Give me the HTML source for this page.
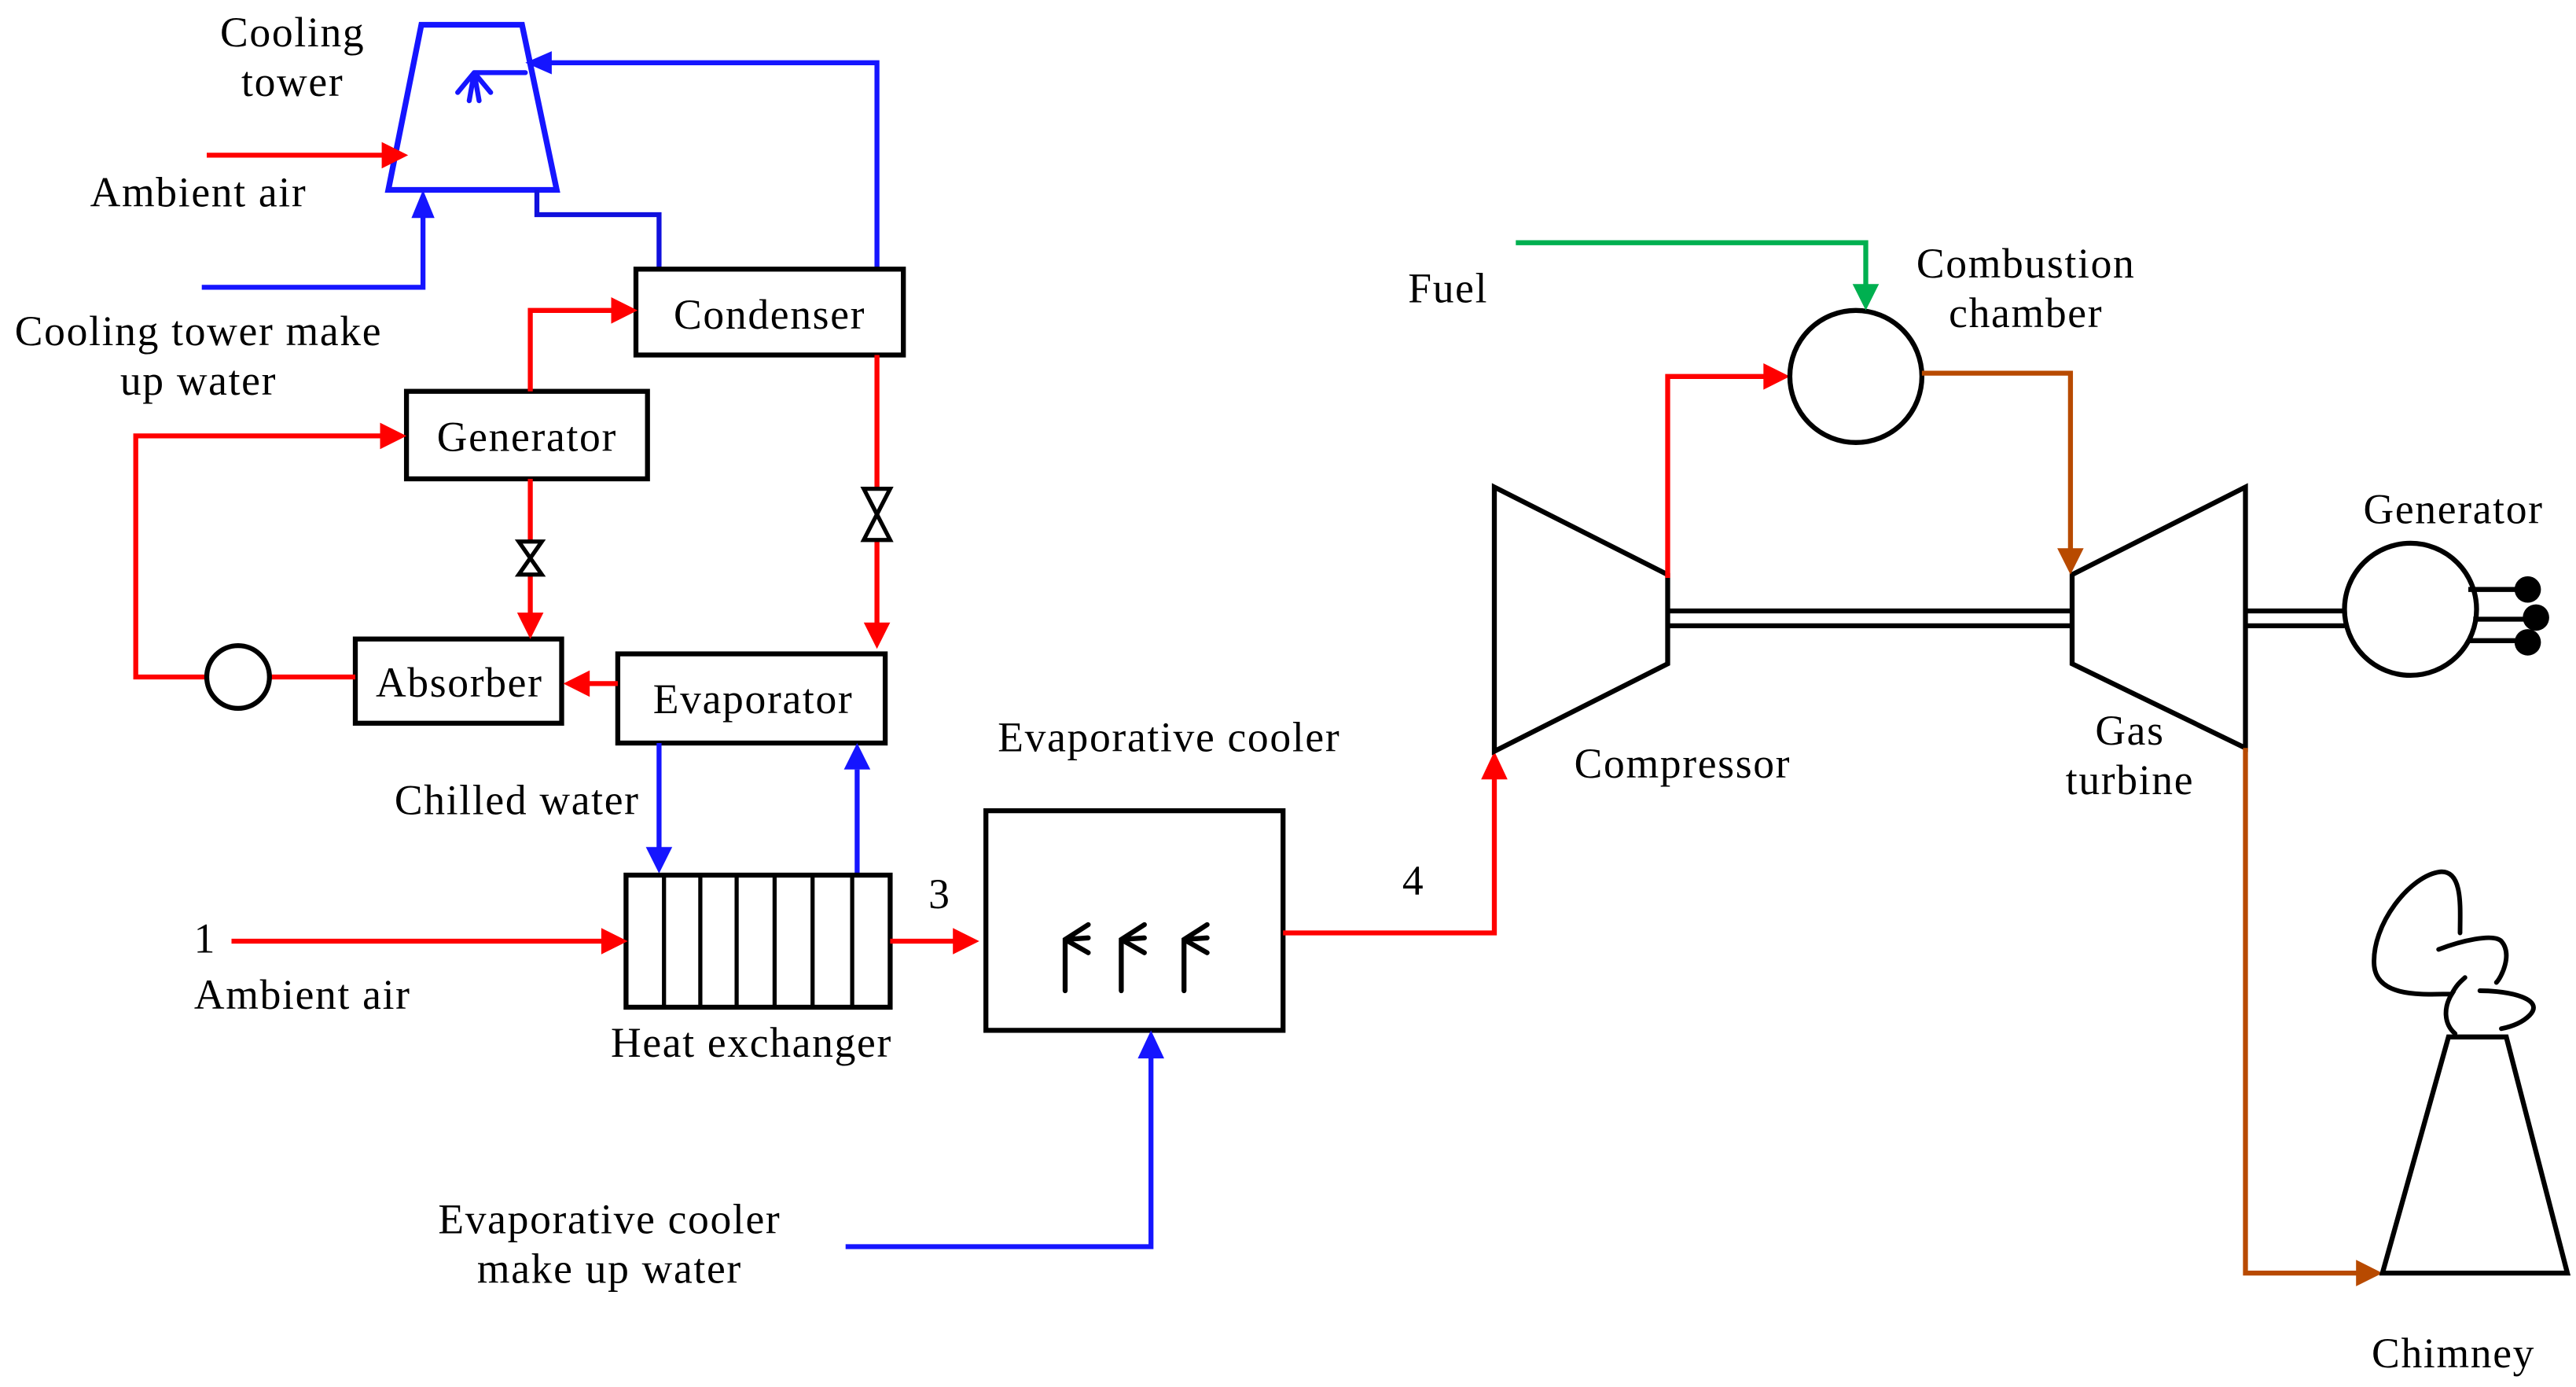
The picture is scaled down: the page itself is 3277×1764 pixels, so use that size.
<!DOCTYPE html>
<html><head><meta charset="utf-8"><style>html,body{margin:0;padding:0;background:#fff}svg{display:block}</style></head>
<body>
<svg width="3277" height="1764" viewBox="0 0 1560 840" xmlns="http://www.w3.org/2000/svg" font-family="Liberation Serif, serif" font-size="25.5" letter-spacing="0.8">
<g fill="none" stroke-width="3" stroke-linejoin="miter">
<!-- cooling tower -->
<path d="M255,15 L316,15 L337,115 L235,115 Z" stroke="#1515ff" stroke-width="3.5"/>
<path d="M287,44 L277,56 M287,44 L297,56 M287,44 L284,61 M287,44 L290,61 M287,44 L318,44" stroke="#1515ff" stroke-width="3" stroke-linecap="round"/>
<polyline points="531,162 531,38 330,38" stroke="#1515ff"/>
<polygon points="318,38 334,31 334,45" fill="#1515ff" stroke="none"/>
<line x1="125" y1="94" x2="232" y2="94" stroke="#ff0000"/>
<polygon points="247,94 231,86 231,102" fill="#ff0000"/>
<polyline points="122,174 256,174 256,130" stroke="#1515ff"/>
<polygon points="256,115 249,132 263,132" fill="#1515ff"/>
<polyline points="325,115 325,130 399,130 399,162" stroke="#1010dd"/>
<!-- boxes -->
<rect x="385" y="163" width="162" height="52" stroke="#000"/>
<rect x="246" y="237" width="146" height="53" stroke="#000"/>
<rect x="215" y="387" width="125" height="51" stroke="#000"/>
<rect x="374" y="396" width="162" height="54" stroke="#000"/>
<polyline points="321,237 321,188 372,188" stroke="#ff0000"/>
<polygon points="386,188 370,180 370,196" fill="#ff0000"/>
<polyline points="125,410 82,410 82,264 232,264" stroke="#ff0000"/>
<polygon points="246,264 230,256 230,272" fill="#ff0000"/>
<line x1="163" y1="410" x2="215" y2="410" stroke="#ff0000"/>
<circle cx="144" cy="410" r="19" stroke="#000"/>
<line x1="321" y1="290" x2="321" y2="372" stroke="#ff0000"/>
<polygon points="321,387 313,371 329,371" fill="#ff0000"/>
<path d="M314,328 L328,328 L314,348 L328,348 Z" stroke="#000" stroke-width="2.5" fill="#fff"/>
<line x1="531" y1="215" x2="531" y2="378" stroke="#ff0000"/>
<polygon points="531,393 523,377 539,377" fill="#ff0000"/>
<path d="M523,296 L539,296 L523,327 L539,327 Z" stroke="#000" stroke-width="2.5" fill="#fff"/>
<line x1="374" y1="414" x2="355" y2="414" stroke="#ff0000"/>
<polygon points="341,414 357,406 357,422" fill="#ff0000"/>
<line x1="399" y1="450" x2="399" y2="514" stroke="#1515ff"/>
<polygon points="399,529 391,513 407,513" fill="#1515ff"/>
<line x1="519" y1="530" x2="519" y2="466" stroke="#1515ff"/>
<polygon points="519,450 511,466 527,466" fill="#1515ff"/>
<rect x="379" y="530" width="160" height="80" stroke="#000"/>
<path d="M402,530V610M424,530V610M446,530V610M469,530V610M492,530V610M516,530V610" stroke="#000" stroke-width="2.5"/>
<line x1="140" y1="570" x2="365" y2="570" stroke="#ff0000"/>
<polygon points="380,570 364,562 364,578" fill="#ff0000"/>
<line x1="539" y1="570" x2="578" y2="570" stroke="#ff0000"/>
<polygon points="593,570 577,562 577,578" fill="#ff0000"/>
<rect x="597" y="491" width="180" height="133" stroke="#000"/>
<g stroke="#000" stroke-linecap="round" stroke-width="3">
<path d="M645,600V569L659,560M645,569L659,568M645,569L659,577"/>
<path d="M679,600V569L693,560M679,569L693,568M679,569L693,577"/>
<path d="M717,600V569L731,560M717,569L731,568M717,569L731,577"/>
</g>
<polyline points="512,755 697,755 697,640" stroke="#1515ff"/>
<polygon points="697,624 689,641 705,641" fill="#1515ff"/>
<polyline points="777,565 905,565 905,471" stroke="#ff0000"/>
<polygon points="905,455 897,472 913,472" fill="#ff0000"/>
<path d="M905,295 L1010,348 L1010,402 L905,455 Z" stroke="#000"/>
<path d="M1255,348 L1360,295 L1360,453 L1255,402 Z" stroke="#000"/>
<path d="M1010,370H1255M1010,379H1255M1360,370H1420M1360,379H1420" stroke="#000"/>
<polyline points="1010,350 1010,228 1069,228" stroke="#ff0000"/>
<polygon points="1084,228 1068,220 1068,236" fill="#ff0000"/>
<circle cx="1124" cy="228" r="40" stroke="#000"/>
<polyline points="918,147 1130,147 1130,173" stroke="#00b050"/>
<polygon points="1130,188 1122,172 1138,172" fill="#00b050"/>
<polyline points="1164,226 1254,226 1254,333" stroke="#b84a00"/>
<polygon points="1254,348 1246,332 1262,332" fill="#b84a00"/>
<ellipse cx="1460" cy="369" rx="40" ry="40" stroke="#000"/>
<path d="M1495,357H1530M1498,375H1535M1495,388H1530" stroke="#000"/>
<circle cx="1531" cy="357" r="8" fill="#000" stroke="none"/>
<circle cx="1536" cy="374" r="8" fill="#000" stroke="none"/>
<circle cx="1531" cy="389" r="8" fill="#000" stroke="none"/>
<polyline points="1360,453 1360,771 1428,771" stroke="#b84a00"/>
<polygon points="1443,771 1427,763 1427,779" fill="#b84a00"/>
<path d="M1483,628 L1518,628 L1555,771 L1443,771 Z" stroke="#000"/>
<path d="M1487,626 C1480,620 1480,610 1485,602 C1470,602 1440,605 1438,585 C1436,560 1460,530 1478,528 C1492,527 1490,550 1490,565 M1477,575 C1490,570 1510,565 1515,570 C1522,578 1515,592 1512,595 M1502,600 C1520,600 1542,605 1532,615 C1527,620 1520,622 1515,623 M1485,602 C1488,596 1491,594 1493,592" stroke="#000" stroke-width="2.8" stroke-linecap="round"/>
</g>
<g fill="#000">
<text x="177" y="28" text-anchor="middle">Cooling</text>
<text x="177" y="58" text-anchor="middle">tower</text>
<text x="120" y="125" text-anchor="middle">Ambient air</text>
<text x="120" y="209" text-anchor="middle">Cooling tower make</text>
<text x="120" y="239" text-anchor="middle">up water</text>
<text x="466" y="199" text-anchor="middle">Condenser</text>
<text x="319" y="273" text-anchor="middle">Generator</text>
<text x="278" y="422" text-anchor="middle">Absorber</text>
<text x="456" y="432" text-anchor="middle">Evaporator</text>
<text x="313" y="493" text-anchor="middle">Chilled water</text>
<text x="124" y="577" text-anchor="middle">1</text>
<text x="183" y="611" text-anchor="middle">Ambient air</text>
<text x="455" y="640" text-anchor="middle">Heat exchanger</text>
<text x="569" y="550" text-anchor="middle">3</text>
<text x="708" y="455" text-anchor="middle">Evaporative cooler</text>
<text x="856" y="542" text-anchor="middle">4</text>
<text x="369" y="747" text-anchor="middle">Evaporative cooler</text>
<text x="369" y="777" text-anchor="middle">make up water</text>
<text x="877" y="183" text-anchor="middle">Fuel</text>
<text x="1227" y="168" text-anchor="middle">Combustion</text>
<text x="1227" y="198" text-anchor="middle">chamber</text>
<text x="1019" y="471" text-anchor="middle">Compressor</text>
<text x="1290" y="451" text-anchor="middle">Gas</text>
<text x="1290" y="481" text-anchor="middle">turbine</text>
<text x="1486" y="317" text-anchor="middle">Generator</text>
<text x="1486" y="828" text-anchor="middle">Chimney</text>
</g>
</svg>
</body></html>
